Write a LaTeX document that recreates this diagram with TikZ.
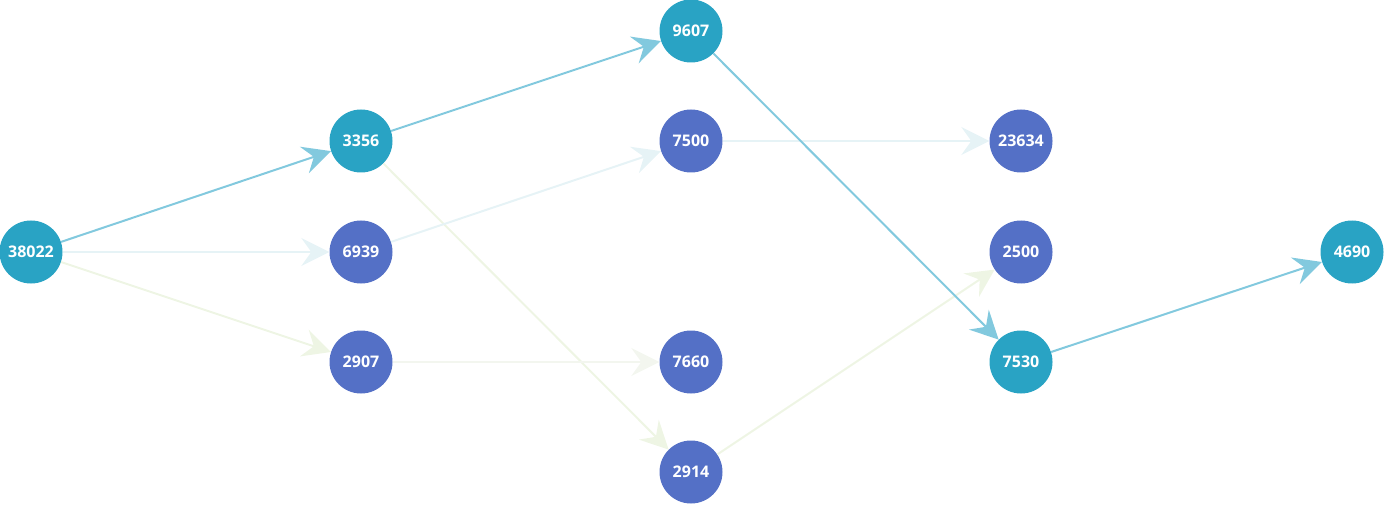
\documentclass[tikz,border=0pt]{standalone}
\usepackage{fontspec}
\setmainfont{Open Sans}
\usetikzlibrary{arrows.meta}
\definecolor{tealnode}{HTML}{29A3C4}
\definecolor{bluenode}{HTML}{5470C6}
\definecolor{hotedge}{HTML}{82C9DE}
\definecolor{coolteal}{HTML}{E6F3F6}
\definecolor{coolgreen}{HTML}{EEF5E4}
\definecolor{palegreen}{HTML}{F3F6EF}
\tikzset{
  vertex/.style={circle, minimum size=63pt, inner sep=0pt, text=white,
    font=\bfseries\fontsize{16}{16}\selectfont},
  hot/.style={vertex, fill=tealnode},
  cold/.style={vertex, fill=bluenode},
  link/.style={line width=2pt,
    -{Stealth[length=28pt, width=28pt, inset=10pt]}},
  linkhot/.style={link, draw=hotedge},
  linkteal/.style={link, draw=coolteal},
  linkgreen/.style={link, draw=coolgreen},
  linkpale/.style={link, draw=palegreen},
}
\begin{document}
\begin{tikzpicture}[x=1pt, y=-1pt]
  \useasboundingbox (0,0) rectangle (1384,505);
  % nodes, column by column
  \node[hot]  (a)  at (31,252)   {38022};
  \node[hot]  (b1) at (361,141)  {3356};
  \node[cold] (b2) at (361,252)  {6939};
  \node[cold] (b3) at (361,362)  {2907};
  \node[hot]  (c1) at (691,31)   {9607};
  \node[cold] (c2) at (691,141)  {7500};
  \node[cold] (c3) at (691,362)  {7660};
  \node[cold] (c4) at (691,472)  {2914};
  \node[cold] (d1) at (1021,141) {23634};
  \node[cold] (d2) at (1021,252) {2500};
  \node[hot]  (d3) at (1021,362) {7530};
  \node[hot]  (e)  at (1352,252) {4690};
  % faint links
  \draw[linkteal]  (a)  -- (b2);
  \draw[linkgreen] (a)  -- (b3);
  \draw[linkgreen] (b1) -- (c4);
  \draw[linkteal]  (b2) -- (c2);
  \draw[linkpale]  (b3) -- (c3);
  \draw[linkteal]  (c2) -- (d1);
  \draw[linkgreen] (c4) -- (d2);
  % highlighted path
  \draw[linkhot] (a)  -- (b1);
  \draw[linkhot] (b1) -- (c1);
  \draw[linkhot] (c1) -- (d3);
  \draw[linkhot] (d3) -- (e);
\end{tikzpicture}
\end{document}
